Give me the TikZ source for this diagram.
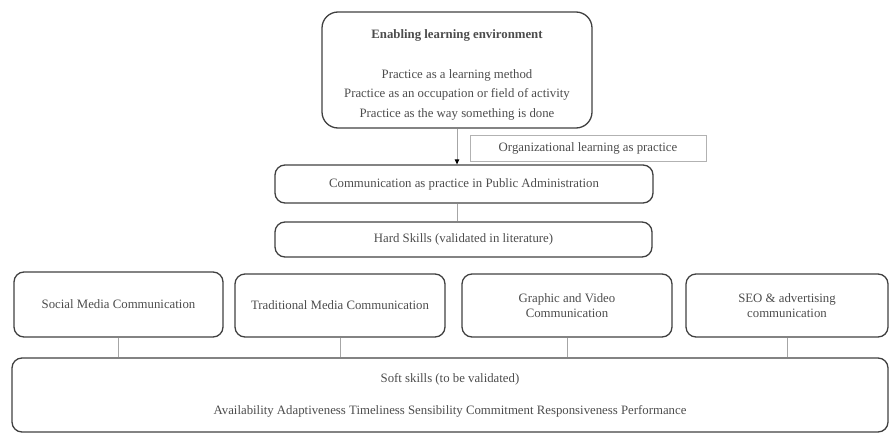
\documentclass[tikz,border=0pt]{standalone}
\usepackage{fontspec}
\setmainfont{Liberation Serif}
\usetikzlibrary{arrows.meta}
\begin{document}
\begin{tikzpicture}[x=1pt,y=-1pt,
  rbox/.style={draw=black!75,line width=1.3pt,rounded corners=10pt,align=center,inner sep=0pt,text=black!70},
  sbox/.style={draw=black!30,line width=1pt,align=center,inner sep=0pt,text=black!70},
  conn/.style={draw=black!35,line width=0.8pt},
  txt/.style={font=\fontsize{12.8}{15}\selectfont}]
\useasboundingbox (0,0) rectangle (890,436);
\node[rbox,rounded corners=16pt,minimum width=270pt,minimum height=116pt,font=\fontsize{12.8}{19.5}\selectfont] (top) at (457,70)
  {\mbox{}\\[-1pt]\textbf{Enabling learning environment}\\[20pt]Practice as a learning method\\Practice as an occupation or field of activity\\Practice as the way something is done};
\node[sbox,txt,minimum width=236pt,minimum height=26pt] (org) at (588,148) {Organizational learning as practice};
\node[rbox,txt,minimum width=378pt,minimum height=38pt] (comm) at (464,184) {Communication as practice in Public Administration};
\node[rbox,txt,minimum width=377pt,minimum height=35pt] (hard) at (463.5,239.5) {Hard Skills (validated in literature)};
\node[rbox,txt,minimum width=209pt,minimum height=65pt] (social) at (118.5,304.5) {Social Media Communication};
\node[rbox,txt,minimum width=210pt,minimum height=63pt] (trad) at (340,305.5) {Traditional Media Communication};
\node[rbox,txt,minimum width=210pt,minimum height=63pt] (graph) at (567,305.5) {Graphic and Video\\Communication};
\node[rbox,txt,minimum width=202pt,minimum height=63pt] (seo) at (787,305.5) {SEO \& advertising\\communication};
\node[rbox,minimum width=876pt,minimum height=74pt,font=\fontsize{12.8}{32}\selectfont] (soft) at (450,395) {Soft skills (to be validated)\\Availability Adaptiveness Timeliness Sensibility Commitment Responsiveness Performance};
\draw[conn,-{Triangle[length=5pt,width=4.5pt,fill=black,color=black]}] (top.south) -- (top.south |- comm.north);
\draw[conn] (comm.south -| top.south) -- (hard.north -| top.south);
\draw[conn] (social.south) -- (soft.north -| social.south);
\draw[conn] (trad.south) -- (soft.north -| trad.south);
\draw[conn] (graph.south) -- (soft.north -| graph.south);
\draw[conn] (seo.south) -- (soft.north -| seo.south);
\end{tikzpicture}
\end{document}
